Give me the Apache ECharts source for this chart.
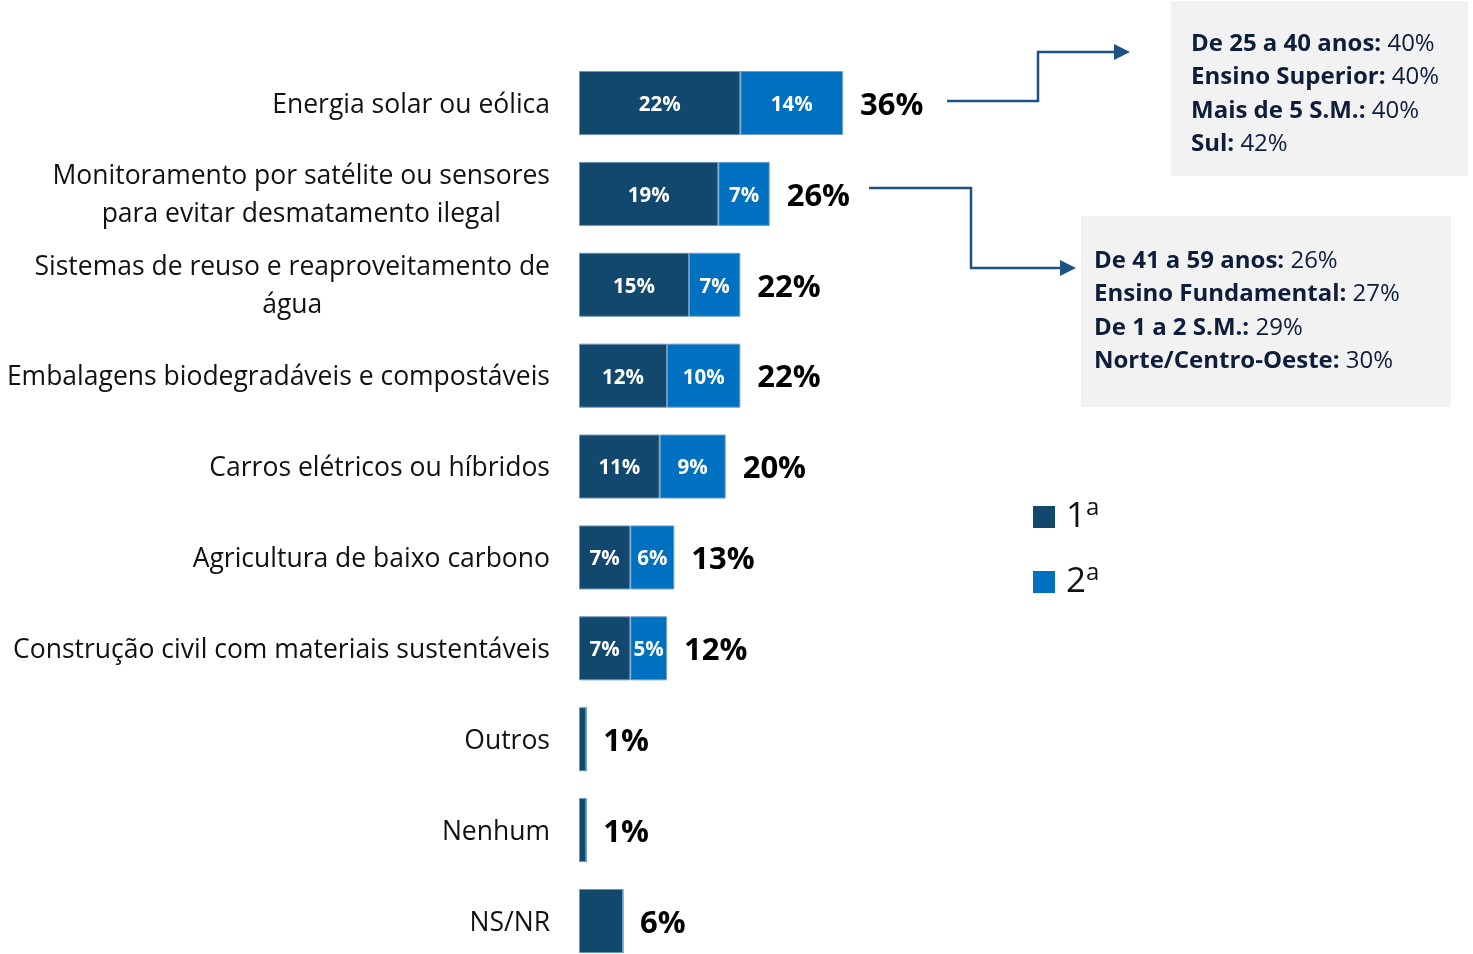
<!DOCTYPE html>
<html>
<head>
<meta charset="utf-8">
<script src="https://cdn.jsdelivr.net/npm/echarts@6/dist/echarts.min.js"></script>
<style>
  html, body { margin: 0; padding: 0; background: #fff; }
  #chart { width: 1473px; height: 954px; }
</style>
</head>
<body>
<div id="chart"></div>
<script>
// dados
const categories = [
  'Energia solar ou eólica',
  'Monitoramento por satélite ou sensores\npara evitar desmatamento ilegal',
  'Sistemas de reuso e reaproveitamento de\nágua',
  'Embalagens biodegradáveis e compostáveis',
  'Carros elétricos ou híbridos',
  'Agricultura de baixo carbono',
  'Construção civil com materiais sustentáveis',
  'Outros',
  'Nenhum',
  'NS/NR'
]
const primeira = [22, 19, 15, 12, 11, 7, 7, 1, 1, 6]
const segunda = [14, 7, 7, 10, 9, 6, 5, 0, 0, 0]
const totais = [36, 26, 22, 22, 20, 13, 12, 1, 1, 6]
const destaque1 = [['De 25 a 40 anos:', '40%'], ['Ensino Superior:', '40%'], ['Mais de 5 S.M.:', '40%'], ['Sul:', '42%']]
const destaque2 = [['De 41 a 59 anos:', '26%'], ['Ensino Fundamental:', '27%'], ['De 1 a 2 S.M.:', '29%'], ['Norte/Centro-Oeste:', '30%']]

const FONT = 'Open Sans'
const DARK = '#12486E'
const LIGHT = '#0070C0'
const LINE = '#1B5384'

let chartDom = document.getElementById('chart')
let myChart = echarts.init(chartDom)

function boxText(rows, x, y) {
  return {
    type: 'text',
    left: x,
    top: y,
    style: {
      text: rows.map(r => '{b|' + r[0] + ' }{r|' + r[1] + '}').join('\n'),
      rich: {
        b: { fontFamily: FONT, fontSize: 24, fontWeight: 'bold', fill: '#0E1E3A', lineHeight: 33.5 },
        r: { fontFamily: FONT, fontSize: 24, fill: '#0E1E3A', lineHeight: 33.5 }
      }
    }
  }
}

function arrow(points, tip) {
  return [
    { type: 'polyline', shape: { points: points }, style: { stroke: LINE, lineWidth: 2.5, fill: null } },
    { type: 'polygon', shape: { points: tip }, style: { fill: LINE } }
  ]
}

let option = {
  animation: false,
  grid: { left: 579, top: 103, width: 440, height: 818 },
  xAxis: { type: 'value', min: 0, max: 60, show: false },
  yAxis: {
    type: 'category',
    data: categories,
    inverse: true,
    boundaryGap: false,
    axisLine: { show: false },
    axisTick: { show: false },
    axisLabel: {
      margin: 29,
      align: 'right',
      padding: [4, 0, 0, 0],
      formatter: v => v.split('\n').map(s => '{c|' + s + '}').join('\n'),
      rich: {
        c: { fontFamily: FONT, fontSize: 26.5, color: '#111', align: 'center', lineHeight: 38 }
      }
    }
  },
  legend: {
    data: ['1ª', '2ª'],
    orient: 'vertical',
    left: 1033,
    top: 496,
    padding: 0,
    itemWidth: 22,
    itemHeight: 22,
    itemGap: 25,
    icon: 'rect',
    itemStyle: { borderWidth: 0 },
    formatter: name => '{n|' + name.charAt(0) + '}{s|a}',
    textStyle: {
      rich: {
        n: { fontFamily: FONT, fontSize: 35, color: '#111', lineHeight: 42, padding: [0, 0, 0, 6] },
        s: { fontFamily: FONT, fontSize: 24, color: '#111', verticalAlign: 'top', lineHeight: 42, padding: [0, 0, 16, 0] }
      }
    }
  },
  series: [
    {
      name: '1ª',
      type: 'bar',
      stack: 'a',
      barWidth: 64,
      itemStyle: { color: DARK, borderColor: '#6b95b8', borderWidth: 1 },
      label: {
        show: true,
        position: 'inside',
        offset: [0, 2],
        color: '#fff',
        fontFamily: FONT,
        fontWeight: 'bold',
        fontSize: 20.5,
        formatter: p => segunda[p.dataIndex] > 0 ? p.value + '%' : ''
      },
      data: primeira
    },
    {
      name: '2ª',
      type: 'bar',
      stack: 'a',
      barWidth: 64,
      itemStyle: { color: LIGHT, borderColor: '#6b9fcc', borderWidth: 1 },
      label: {
        show: true,
        position: 'inside',
        offset: [0, 2],
        color: '#fff',
        fontFamily: FONT,
        fontWeight: 'bold',
        fontSize: 20.5,
        formatter: p => p.value > 0 ? p.value + '%' : ''
      },
      data: segunda
    },
    {
      name: 'Total',
      type: 'bar',
      stack: 'a',
      barWidth: 64,
      itemStyle: { color: 'transparent' },
      label: {
        show: true,
        position: 'right',
        distance: 17,
        offset: [0, 3],
        color: '#000',
        fontFamily: FONT,
        fontWeight: 'bold',
        fontSize: 31,
        formatter: p => totais[p.dataIndex] + '%'
      },
      data: totais.map(() => 0)
    }
  ],
  graphic: [
    { type: 'rect', shape: { x: 1171, y: 1, width: 297, height: 175 }, style: { fill: '#F2F2F2' } },
    { type: 'rect', shape: { x: 1081, y: 216, width: 370, height: 191 }, style: { fill: '#F2F2F2' } },
    boxText(destaque1, 1191, 32),
    boxText(destaque2, 1094, 249)
  ].concat(
    arrow([[947, 101], [1038, 101], [1038, 52], [1116, 52]], [[1114, 44], [1130, 52], [1114, 60]]),
    arrow([[869, 188], [971, 188], [971, 268], [1062, 268]], [[1060, 260], [1076, 268], [1060, 276]])
  )
}

option && myChart.setOption(option)
</script>
</body>
</html>
